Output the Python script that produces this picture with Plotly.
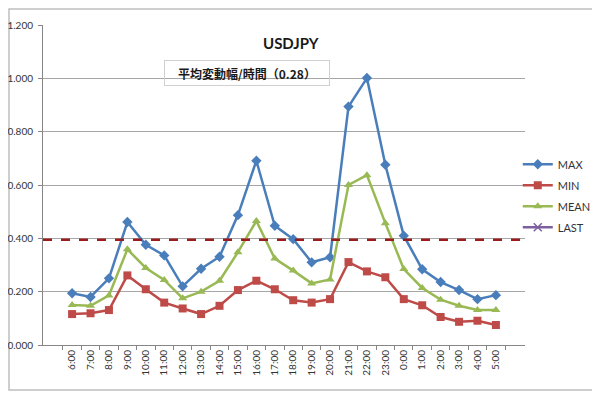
import plotly.graph_objects as go

hours = ["6:00", "7:00", "8:00", "9:00", "10:00", "11:00", "12:00", "13:00", "14:00",
         "15:00", "16:00", "17:00", "18:00", "19:00", "20:00", "21:00", "22:00", "23:00",
         "0:00", "1:00", "2:00", "3:00", "4:00", "5:00"]
max_vals = [0.194, 0.180, 0.250, 0.461, 0.376, 0.336, 0.220, 0.286, 0.331, 0.487, 0.691, 0.447,
            0.397, 0.310, 0.329, 0.894, 1.001, 0.676, 0.410, 0.284, 0.236, 0.206, 0.172, 0.187]
min_vals = [0.116, 0.119, 0.131, 0.261, 0.209, 0.159, 0.137, 0.116, 0.147, 0.206, 0.241, 0.209,
            0.168, 0.159, 0.172, 0.311, 0.276, 0.254, 0.172, 0.149, 0.105, 0.087, 0.091, 0.075]
mean_vals = [0.150, 0.147, 0.186, 0.359, 0.289, 0.244, 0.175, 0.200, 0.241, 0.348, 0.465, 0.324,
             0.279, 0.231, 0.246, 0.600, 0.637, 0.457, 0.285, 0.214, 0.170, 0.147, 0.131, 0.131]
last_level = 0.395
y_ticks = [0.0, 0.2, 0.4, 0.6, 0.8, 1.0, 1.2]
title_text = "USDJPY"
note_text = "平均変動幅/時間（0.28）"

font_main = "Lato, 'Open Sans', 'Noto Sans CJK JP', sans-serif"

# page has an 8px body margin; plot area targeted at page x 43..525, y 25..345
PW, PH = 482.0, 320.0
def px(x):
    return (x - 43) / PW
def py(y):
    return (345 - y) / PH

fig = go.Figure()
fig.add_trace(go.Scatter(x=hours, y=max_vals, name="MAX", mode="lines+markers", legendgroup="a",
                         line=dict(color="#4A7EBB", width=2.5),
                         marker=dict(symbol="diamond", size=8, color="#4A7EBB")))
fig.add_trace(go.Scatter(x=hours, y=min_vals, name="MIN", mode="lines+markers", legendgroup="b",
                         line=dict(color="#BE4B48", width=2.5),
                         marker=dict(symbol="square", size=8, color="#BE4B48")))
fig.add_trace(go.Scatter(x=hours, y=mean_vals, name="MEAN", mode="lines+markers", legendgroup="c",
                         line=dict(color="#98B954", width=2.5),
                         marker=dict(symbol="triangle-up", size=8, color="#98B954")))
fig.add_trace(go.Scatter(x=[None], y=[None], name="LAST", mode="lines+markers", legendgroup="d",
                         line=dict(color="#7D60A0", width=2.5),
                         marker=dict(symbol="x-thin", size=8, line=dict(color="#7D60A0", width=1.5))))

fig.add_shape(type="line", xref="paper", yref="y", x0=0, x1=1, y0=last_level, y1=last_level,
              line=dict(color="#9B1C1C", width=2.5, dash="dash"))

# outer chart frame
fig.add_shape(type="rect", xref="paper", yref="paper", x0=px(9), x1=px(598), y0=py(390), y1=py(9),
              line=dict(color="#BFBFBF", width=1.5), layer="below")

fig.add_annotation(text="<b>" + title_text + "</b>", xref="paper", yref="paper",
                   x=px(291), y=py(43), xanchor="center", yanchor="middle", showarrow=False,
                   font=dict(family=font_main, size=15, color="#1a1a1a"))
fig.add_annotation(text="<b>" + note_text + "</b>", xref="paper", yref="paper",
                   x=px(247), y=py(73), xanchor="center", yanchor="middle", showarrow=False,
                   width=160, height=20, bordercolor="#D0D0D0", borderwidth=1, borderpad=2,
                   font=dict(family="'Noto Sans CJK JP', sans-serif", size=12, color="#1a1a1a"))

fig.update_layout(
    width=592, height=385,
    margin=dict(l=35, r=75, t=17, b=48, autoexpand=False),
    paper_bgcolor="white", plot_bgcolor="white",
    font=dict(family=font_main, size=10, color="#333333"),
    showlegend=True,
    legend=dict(x=0.985, y=0.61, xanchor="left", yanchor="top",
                font=dict(family=font_main, size=11, color="#333333"),
                tracegroupgap=2, itemwidth=30, bgcolor="rgba(0,0,0,0)"),
    xaxis=dict(type="category", tickangle=-90, showgrid=False, showline=True, automargin=False,
               linecolor="#868686", linewidth=1, ticks="outside", tickson="boundaries",
               ticklen=4, tickcolor="#868686", tickfont=dict(size=10, color="#333333")),
    yaxis=dict(range=[0, 1.2], tickvals=y_ticks, tickformat=".3f", showgrid=True, automargin=False,
               gridcolor="#A6A6A6", gridwidth=1, showline=True, linecolor="#868686",
               ticks="outside", ticklen=4, tickcolor="#868686", zeroline=False,
               ticklabelstandoff=3,
               tickfont=dict(size=10, color="#333333")),
)

fig.write_html("out.html")
